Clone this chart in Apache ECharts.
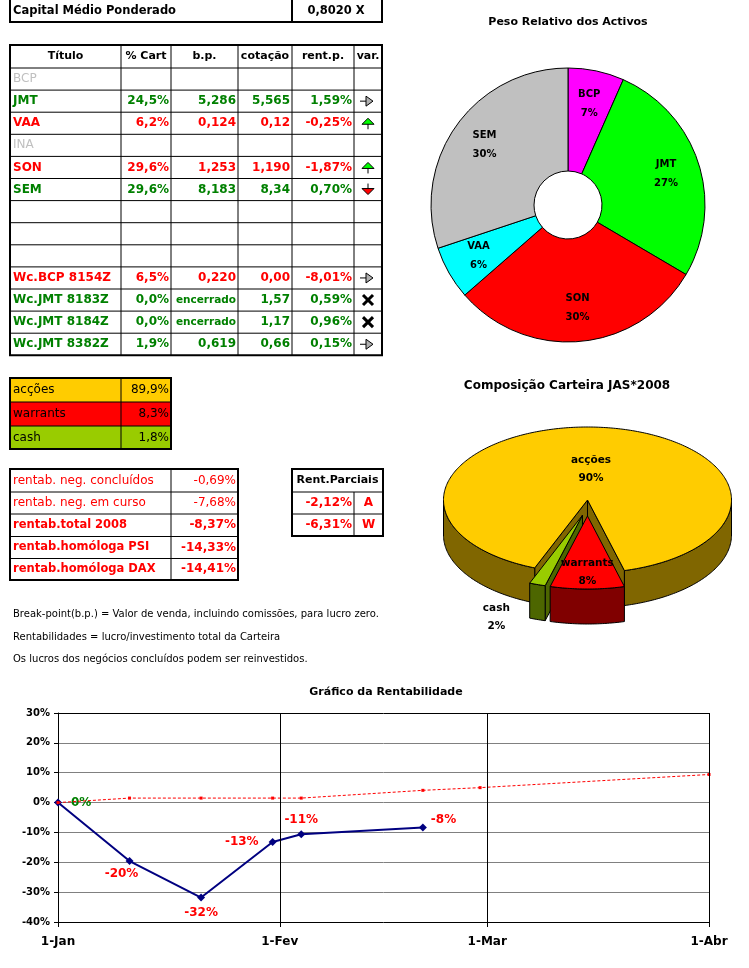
<!DOCTYPE html>
<html><head><meta charset="utf-8">
<script src="https://cdn.jsdelivr.net/npm/echarts@6/dist/echarts.min.js"></script>
<style>html,body{margin:0;padding:0;background:#fff}#c{width:749px;height:968px}</style>
</head><body><div id="c"></div>
<script>
// ================= DATA =================
const capitalLabel = 'Capital Médio Ponderado';
const capitalValue = '0,8020 X';

const tableHeader = ['Título', '% Cart', 'b.p.', 'cotação', 'rent.p.', 'var.'];
const titulos   = ['BCP','JMT','VAA','INA','SON','SEM','','','','Wc.BCP 8154Z','Wc.JMT 8183Z','Wc.JMT 8184Z','Wc.JMT 8382Z'];
const pctCart   = ['','24,5%','6,2%','','29,6%','29,6%','','','','6,5%','0,0%','0,0%','1,9%'];
const breakPt   = ['','5,286','0,124','','1,253','8,183','','','','0,220','encerrado','encerrado','0,619'];
const cotacao   = ['','5,565','0,12','','1,190','8,34','','','','0,00','1,57','1,17','0,66'];
const rentP     = ['','1,59%','-0,25%','','-1,87%','0,70%','','','','-8,01%','0,59%','0,96%','0,15%'];
const variacao  = ['','right','up','','up','down','','','','right','x','x','right'];
const rowState  = ['inactive','gain','loss','inactive','loss','gain','','','','loss','gain','gain','gain'];

const allocLabels = ['acções','warrants','cash'];
const allocText   = ['89,9%','8,3%','1,8%'];
const allocValues = [89.9, 8.3, 1.8];

const rentLabels = ['rentab. neg. concluídos','rentab. neg. em curso','rentab.total 2008','rentab.homóloga PSI','rentab.homóloga DAX'];
const rentValues = ['-0,69%','-7,68%','-8,37%','-14,33%','-14,41%'];

const parciaisHeader = 'Rent.Parciais';
const parciaisValues = ['-2,12%','-6,31%'];
const parciaisKeys   = ['A','W'];

const notes = [
  'Break-point(b.p.) = Valor de venda, incluindo comissões, para lucro zero.',
  'Rentabilidades = lucro/investimento total da Carteira',
  'Os lucros dos negócios concluídos podem ser reinvestidos.'
];

const pesoTitle  = 'Peso Relativo dos Activos';
const pesoNames  = ['BCP','JMT','SON','VAA','SEM'];
const pesoValues = [6.5, 26.4, 29.6, 6.2, 29.6];

const compTitle = 'Composição Carteira JAS*2008';

const lineTitle  = 'Gráfico da Rentabilidade';
const rentDates  = ['2008-01-01','2008-01-11','2008-01-21','2008-01-31','2008-02-04','2008-02-21'];
const rentSeries = [0, -19.6, -31.8, -13.2, -10.6, -8.37];
const refDates   = ['2008-01-01','2008-01-11','2008-01-21','2008-01-31','2008-02-04','2008-02-21','2008-02-29','2008-04-01'];
const refSeries  = [0, 1.5, 1.5, 1.5, 1.5, 4.1, 5.0, 9.4];
const monthTicks = ['2008-01-01','2008-02-01','2008-03-01','2008-04-01'];
const monthNames = ['Jan','Fev','Mar','Abr','Mai','Jun','Jul','Ago','Set','Out','Nov','Dez'];
const yMin = -40, yMax = 30, yStep = 10;

// ================= HELPERS =================
const FF = '"DejaVu Sans", sans-serif';
const f = (w, s) => w + ' ' + s + 'px ' + FF;
const G = [];
function R(x, y, w, h, fill, stroke, lw) {
  G.push({type:'rect', silent:true, shape:{x, y, width:w, height:h},
    style:{fill: fill || 'none', stroke: stroke || 'none', lineWidth: lw || 0}});
}
function L(x1, y1, x2, y2, lw, color) {
  G.push({type:'line', silent:true, shape:{x1, y1, x2, y2}, style:{stroke: color || '#000', lineWidth: lw || 1}});
}
function P(points, fill, stroke, lw) {
  G.push({type:'polygon', silent:true, shape:{points}, style:{fill, stroke: stroke || '#000', lineWidth: lw || 1}});
}
function T(x, y, str, font, fill, align) {
  G.push({type:'text', silent:true, x, y, style:{text: str, font, fill: fill || '#000', align: align || 'left', verticalAlign: 'middle'}});
}
function tableGrid(xs, ys) {
  xs.slice(1, -1).forEach(x => L(x, ys[0], x, ys[ys.length - 1], 1));
  ys.slice(1, -1).forEach(y => L(xs[0], y, xs[xs.length - 1], y, 1));
  R(xs[0], ys[0], xs[xs.length - 1] - xs[0], ys[ys.length - 1] - ys[0], 'none', '#000', 2);
}
function icon(type, cx, cy) {
  if (type === 'right') {
    L(cx - 8, cy, cx - 2, cy, 1);
    P([[cx - 2, cy - 5], [cx + 5, cy], [cx - 2, cy + 5]], '#B0B0B0');
  } else if (type === 'up') {
    L(cx, cy, cx, cy + 6, 1);
    P([[cx - 6, cy + 1], [cx, cy - 5], [cx + 6, cy + 1]], '#00FF00');
  } else if (type === 'down') {
    L(cx, cy - 6, cx, cy, 1);
    P([[cx - 6, cy - 1], [cx + 6, cy - 1], [cx, cy + 5]], '#FF0000');
  } else if (type === 'x') {
    L(cx - 5, cy - 5, cx + 5, cy + 5, 3);
    L(cx - 5, cy + 5, cx + 5, cy - 5, 3);
  }
}
const stateColor = {inactive:'#C0C0C0', gain:'#008000', loss:'#FF0000', '':'#000'};

// ---- capital box ----
R(10, -2, 372, 24, 'none', '#000', 2);
L(292, 0, 292, 22, 2);
T(13, 11, capitalLabel, f('bold', 11.5));
T(336, 11, capitalValue, f('bold', 11.5), '#000', 'center');

// ---- main table ----
const mtX = [10, 121, 171, 238, 292, 354, 382];
const mtY = [45, 68];
titulos.forEach((_, i) => mtY.push(68 + 22.1 * (i + 1)));
tableGrid(mtX, mtY);
tableHeader.forEach((h, c) => T((mtX[c] + mtX[c + 1]) / 2, (mtY[0] + mtY[1]) / 2, h, f('bold', 11), '#000', 'center'));
const cols = [pctCart, breakPt, cotacao, rentP];
titulos.forEach((t, r) => {
  const yc = (mtY[r + 1] + mtY[r + 2]) / 2;
  const st = rowState[r];
  const col = stateColor[st];
  const w = st === 'inactive' ? 'normal' : 'bold';
  if (t) T(mtX[0] + 3, yc, t, f(w, 12), col);
  cols.forEach((arr, c) => {
    const v = arr[r];
    if (!v) return;
    const small = v === 'encerrado';
    T(mtX[c + 2] - 2, yc, v, f('bold', small ? 10.5 : 12), col, 'right');
  });
  if (variacao[r]) icon(variacao[r], (mtX[5] + mtX[6]) / 2, yc);
});

// ---- allocation table ----
const atX = [10, 121, 171], atY = [378, 402, 426, 449];
const allocFill = ['#FFCC00', '#FF0000', '#99CC00'];
allocLabels.forEach((lab, i) => {
  R(atX[0], atY[i], atX[2] - atX[0], atY[i + 1] - atY[i], allocFill[i]);
});
tableGrid(atX, atY);
allocLabels.forEach((lab, i) => {
  const yc = (atY[i] + atY[i + 1]) / 2;
  T(atX[0] + 3, yc, lab, f('normal', 12));
  T(atX[2] - 2, yc, allocText[i], f('normal', 12), '#000', 'right');
});

// ---- rentabilidade table ----
const rtX = [10, 171, 238], rtY = [469, 492, 514, 536.5, 558.5, 580];
tableGrid(rtX, rtY);
rentLabels.forEach((lab, i) => {
  const yc = (rtY[i] + rtY[i + 1]) / 2;
  const w = i < 2 ? 'normal' : 'bold';
  T(rtX[0] + 3, yc, lab, f(w, i < 2 ? 12 : 11.5), '#FF0000');
  T(rtX[2] - 2, yc, rentValues[i], f(w, 12), '#FF0000', 'right');
});

// ---- rent parciais ----
const ppX = [292, 354, 383], ppY = [469, 492, 514, 536];
R(ppX[0], ppY[0], ppX[2] - ppX[0], ppY[3] - ppY[0], 'none', '#000', 2);
L(ppX[0], ppY[1], ppX[2], ppY[1], 1);
L(ppX[0], ppY[2], ppX[2], ppY[2], 1);
L(ppX[1], ppY[1], ppX[1], ppY[3], 1);
T((ppX[0] + ppX[2]) / 2, (ppY[0] + ppY[1]) / 2, parciaisHeader, f('bold', 11), '#000', 'center');
parciaisValues.forEach((v, i) => {
  const yc = (ppY[i + 1] + ppY[i + 2]) / 2;
  T(ppX[1] - 2, yc, v, f('bold', 12), '#FF0000', 'right');
  T((ppX[1] + ppX[2]) / 2, yc, parciaisKeys[i], f('bold', 12), '#FF0000', 'center');
});

// ---- notes ----
const noteY = [614, 637, 659];
notes.forEach((n, i) => T(13, noteY[i], n, f('normal', 10)));

// ---- titles ----
T(568, 22, pesoTitle, f('bold', 11), '#000', 'center');
T(567, 386, compTitle, f('bold', 12), '#000', 'center');
T(386, 692, lineTitle, f('bold', 11), '#000', 'center');

// ================= 3D PIE (custom series) =================
const P3 = {cx: 587.5, cy: 500, rx: 144, ry: 73, depth: 35, rotation: 201.5,
  explode: [0, 16, 16], top: ['#FFCC00', '#FF0000', '#99CC00'], side: ['#806600', '#800000', '#4D6600'],
  labelK: [0.42, 0.77, null]};
const allocTotal = allocValues.reduce((a, b) => a + b, 0);
const spans = [];
(function () { let acc = P3.rotation; allocValues.forEach(v => { const a = v / allocTotal * 360; spans.push([acc, acc + a]); acc += a; }); })();
const rad = d => d * Math.PI / 180;
function ept(phi, ox, oy, dz) { return [P3.cx + ox + P3.rx * Math.sin(rad(phi)), P3.cy + oy - P3.ry * Math.cos(rad(phi)) + (dz || 0)]; }
function earc(a0, a1, ox, oy, dz) {
  const n = Math.max(2, Math.ceil(Math.abs(a1 - a0)));
  const pts = [];
  for (let i = 0; i <= n; i++) pts.push(ept(a0 + (a1 - a0) * i / n, ox, oy, dz));
  return pts;
}
function render3d(params, api) {
  const i = params.dataIndex;
  const [s, e] = spans[i];
  const m = (s + e) / 2;
  const ox = P3.explode[i] * Math.sin(rad(m)), oy = -P3.explode[i] * Math.cos(rad(m));
  const C = [P3.cx + ox, P3.cy + oy];
  const D = P3.depth;
  const mm = ((m % 360) + 360) % 360;
  const zb = Math.round(180 - Math.abs(mm - 180)) * 10;
  const side = {fill: P3.side[i], stroke: '#000', lineWidth: 1};
  const ch = [];
  if (Math.sin(rad(s)) < 0) { const p = ept(s, ox, oy); ch.push({type:'polygon', z2: zb, shape:{points:[C, p, [p[0], p[1] + D], [C[0], C[1] + D]]}, style: side}); }
  if (Math.sin(rad(e)) > 0) { const p = ept(e, ox, oy); ch.push({type:'polygon', z2: zb, shape:{points:[C, p, [p[0], p[1] + D], [C[0], C[1] + D]]}, style: side}); }
  for (let k = -1; k <= 2; k++) {
    const lo = Math.max(s, 90 + 360 * k), hi = Math.min(e, 270 + 360 * k);
    if (hi > lo) ch.push({type:'polygon', z2: zb + 1, shape:{points: earc(lo, hi, ox, oy, 0).concat(earc(hi, lo, ox, oy, D))}, style: side});
  }
  ch.push({type:'polygon', z2: zb + 2, shape:{points:[C].concat(earc(s, e, ox, oy, 0))}, style:{fill: P3.top[i], stroke:'#000', lineWidth: 1}});
  const v = api.value(0);
  const txt = allocLabels[i] + '\n' + Math.round(v / allocTotal * 100) + '%';
  let lx, ly;
  if (P3.labelK[i] != null) {
    const k = P3.labelK[i];
    lx = C[0] + k * P3.rx * Math.sin(rad(m)); ly = C[1] - k * P3.ry * Math.cos(rad(m));
  } else {
    const p = ept(m, ox, oy); lx = p[0] - 41; ly = p[1] + D - 2;
  }
  ch.push({type:'text', z2: 10000, x: lx, y: ly, style:{text: txt, font: f('bold', 10.5), fill:'#000', align:'center', verticalAlign:'middle', lineHeight: 18}});
  return {type:'group', children: ch};
}

// ================= LINE CHART =================
const DAY = 86400000;
function toTime(s) { const [y, mo, d] = s.split('-').map(Number); return Date.UTC(y, mo - 1, d); }
const t0 = toTime(monthTicks[0]);
const toDay = s => Math.round((toTime(s) - t0) / DAY);
const rentLabelLayout = [
  {position:'right', distance: 9, color:'#008000'},
  {position:'bottom', distance: 3, offset:[-8, 0]},
  {position:'bottom', distance: 5},
  {position:'left', distance: 10},
  {position:'top', distance: 4},
  {position:'right', distance: 4, offset:[0, -8]}
];
const rentData = rentSeries.map((v, i) => ({value: [toDay(rentDates[i]), v], label: rentLabelLayout[i]}));
const refData = refSeries.map((v, i) => [toDay(refDates[i]), v]);
const monthVals = monthTicks.map(toDay);
const dayLabel = d => { const dt = new Date(t0 + d * DAY); return dt.getUTCDate() + '-' + monthNames[dt.getUTCMonth()]; };

const pesoColors = ['#FF00FF', '#00FF00', '#FF0000', '#00FFFF', '#C0C0C0'];

const option = {
  animation: false,
  backgroundColor: '#ffffff',
  graphic: {elements: G},
  grid: {left: 58, top: 713, width: 651, height: 209, containLabel: false, outerBoundsMode: 'none'},
  xAxis: [{
    type: 'value', min: monthVals[0], max: monthVals[monthVals.length - 1],
    axisLine: {show: true, onZero: false, lineStyle: {color: '#000', width: 1}},
    axisTick: {show: true, length: 5, customValues: monthVals, lineStyle: {color: '#000'}},
    axisLabel: {customValues: monthVals, margin: 14, hideOverlap: false, showMinLabel: true, showMaxLabel: true,
      color: '#000', fontFamily: FF, fontWeight: 'bold', fontSize: 12, formatter: v => dayLabel(v)},
    splitLine: {show: false}
  }, {
    type: 'value', position: 'top', min: 0, max: 1,
    axisLine: {show: true, onZero: false, lineStyle: {color: '#000', width: 1}},
    axisTick: {show: false}, axisLabel: {show: false}, splitLine: {show: false}
  }],
  yAxis: {
    type: 'value', min: yMin, max: yMax, interval: yStep,
    axisLine: {show: true, onZero: false, lineStyle: {color: '#000', width: 1}},
    axisTick: {show: true, length: 4, lineStyle: {color: '#000'}},
    axisLabel: {margin: 8, color: '#000', fontFamily: FF, fontWeight: 'bold', fontSize: 10, formatter: '{value}%'},
    splitLine: {show: true, showMinLine: false, showMaxLine: false, lineStyle: {color: '#808080', width: 1}}
  },
  series: [
    {
      type: 'pie', silent: true, center: [568, 205], radius: [34, 137], startAngle: 90, clockwise: true,
      avoidLabelOverlap: false, label: {show: false}, labelLine: {show: false},
      itemStyle: {borderColor: '#000', borderWidth: 1},
      data: pesoNames.map((n, i) => ({name: n, value: pesoValues[i], itemStyle: {color: pesoColors[i]}}))
    },
    {
      type: 'pie', silent: true, center: [568, 205], radius: [63, 137], startAngle: 90, clockwise: true,
      avoidLabelOverlap: false, labelLine: {show: false},
      itemStyle: {color: 'rgba(0,0,0,0)', borderWidth: 0},
      label: {show: true, position: 'inside', color: '#000', fontFamily: FF, fontWeight: 'bold', fontSize: 10, lineHeight: 19,
        textBorderWidth: 0, formatter: p => p.name + '\n' + Math.round(p.percent) + '%'},
      data: pesoNames.map((n, i) => ({name: n, value: pesoValues[i]}))
    },
    {
      type: 'custom', coordinateSystem: 'none', silent: true, renderItem: render3d,
      data: allocValues.map(v => [v])
    },
    {
      type: 'line', xAxisIndex: 0, yAxisIndex: 0, data: rentData, z: 3,
      lineStyle: {color: '#000080', width: 2}, itemStyle: {color: '#000080'},
      symbol: 'diamond', symbolSize: 8, showSymbol: true,
      label: {show: true, color: '#FF0000', fontFamily: FF, fontWeight: 'bold', fontSize: 12,
        formatter: p => Math.round(p.value[1]) + '%'}
    },
    {
      type: 'line', xAxisIndex: 0, yAxisIndex: 0, data: refData, z: 4,
      lineStyle: {color: '#FF0000', width: 1, type: [3, 2]}, itemStyle: {color: '#FF0000'},
      symbol: 'rect', symbolSize: 3, showSymbol: true, label: {show: false},
      markLine: {silent: true, symbol: ['none', 'none'], label: {show: false},
        lineStyle: {color: '#000', type: 'solid', width: 1},
        data: monthVals.slice(1).map(t => ({xAxis: t}))}
    }
  ]
};
const chart = echarts.init(document.getElementById('c'), null, {renderer: 'canvas'});
chart.setOption(option);
</script>
</body></html>
